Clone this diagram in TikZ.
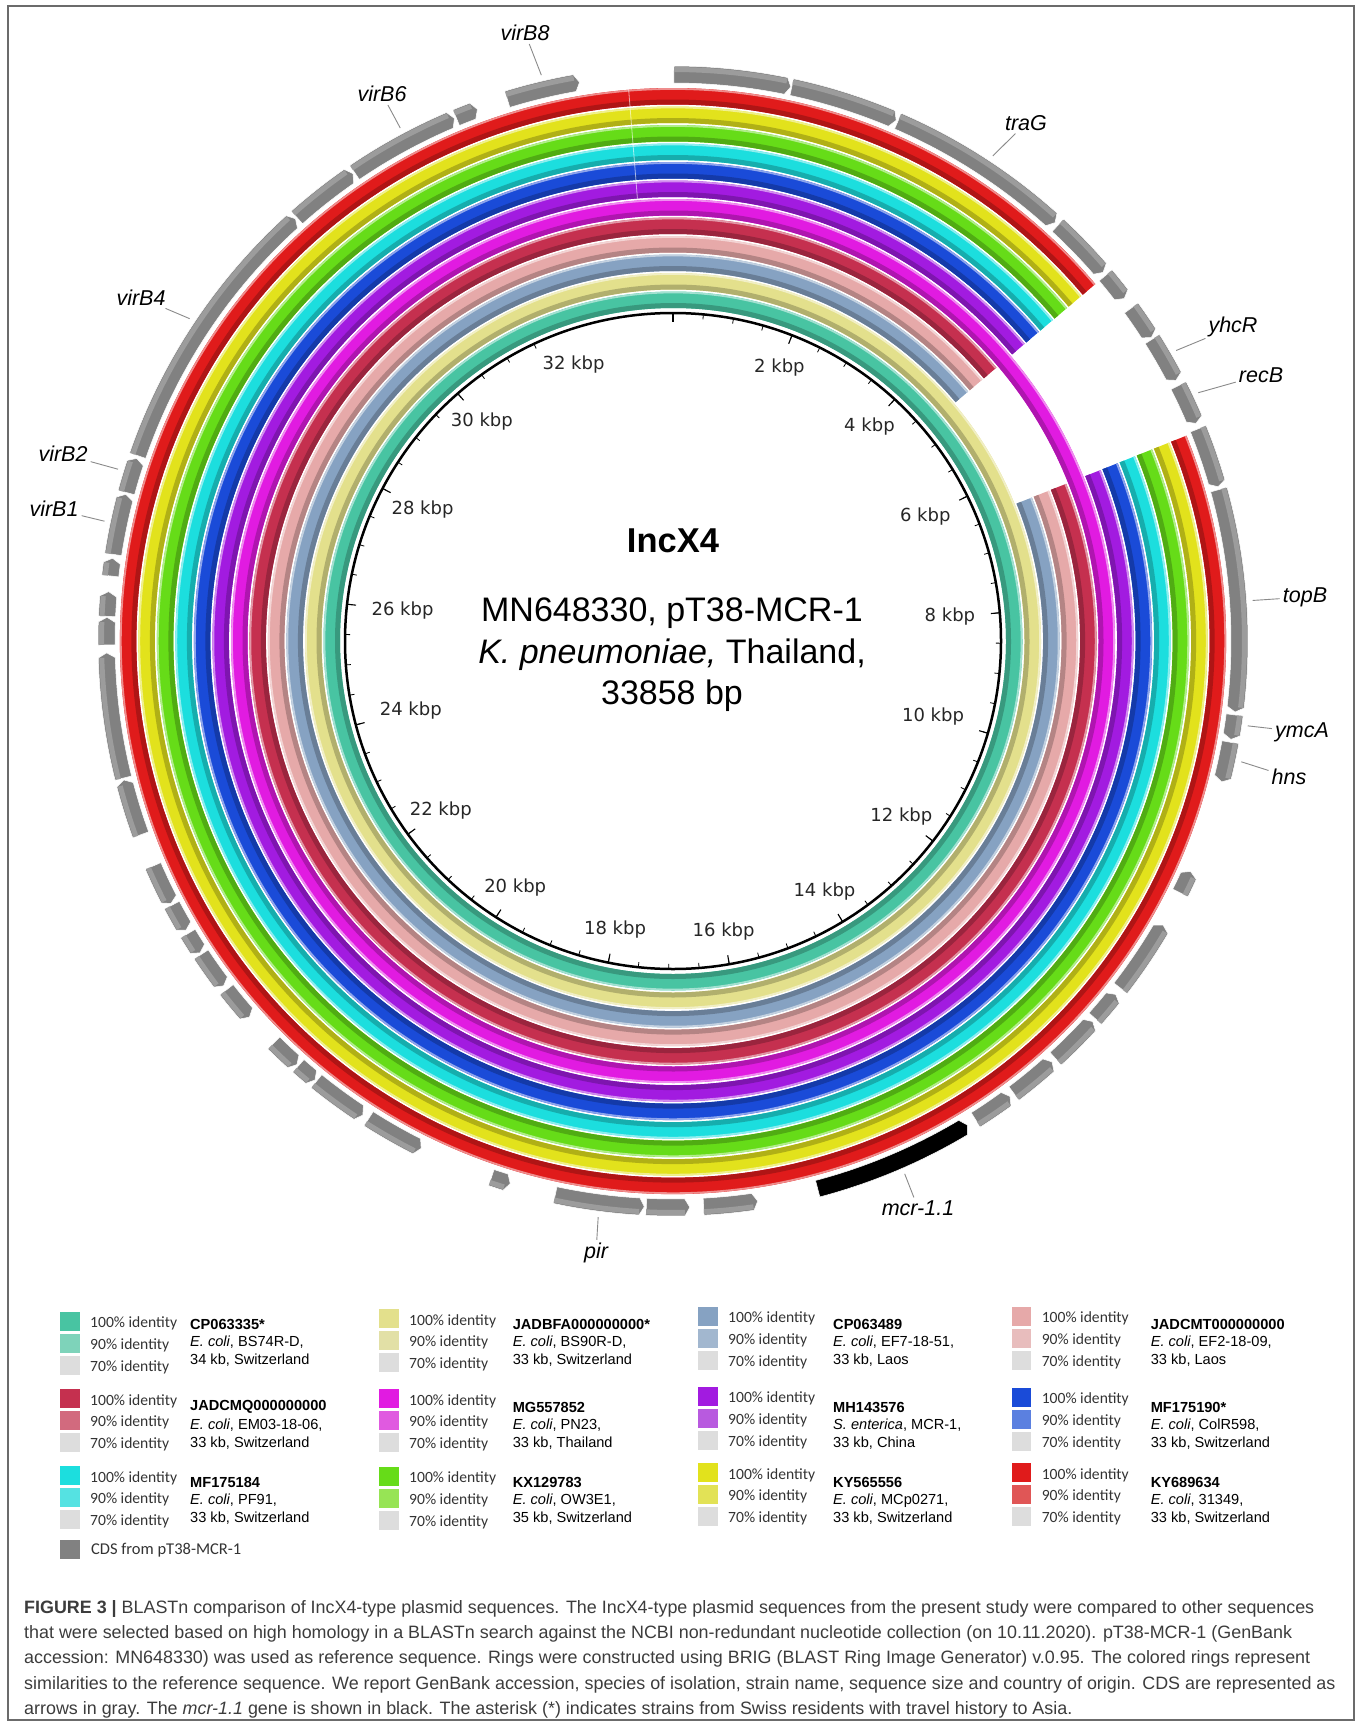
\documentclass[tikz,border=0pt]{standalone}
\usepackage{fontspec}
\setmainfont{Liberation Sans}
\newfontfamily\kbpfont{DejaVu Sans}
\newfontfamily\legfont{Carlito}
\usepackage{xcolor}
\usepackage{tikz}
\usetikzlibrary{calc}
\definecolor{RingTeal}{HTML}{48C4A2}
\definecolor{RingKhaki}{HTML}{E3E08C}
\definecolor{RingSlate}{HTML}{86A2C2}
\definecolor{RingPink}{HTML}{E6A9A9}
\definecolor{RingCrimson}{HTML}{C5304F}
\definecolor{RingMagenta}{HTML}{E11BE1}
\definecolor{RingPurple}{HTML}{A21BE0}
\definecolor{RingBlue}{HTML}{1A4BD8}
\definecolor{RingCyan}{HTML}{1CDEDE}
\definecolor{RingGreen}{HTML}{66DC18}
\definecolor{RingYellow}{HTML}{E2E21C}
\definecolor{RingRed}{HTML}{E01B1B}
\definecolor{TealL}{HTML}{7ED3BA}
\definecolor{KhakiL}{HTML}{E2E0A6}
\definecolor{SlateL}{HTML}{A2B7CF}
\definecolor{PinkL}{HTML}{E8BDBD}
\definecolor{CrimsonL}{HTML}{D26A7E}
\definecolor{MagentaL}{HTML}{E05AE0}
\definecolor{PurpleL}{HTML}{B85ADF}
\definecolor{BlueL}{HTML}{5B80E0}
\definecolor{CyanL}{HTML}{55E2E2}
\definecolor{GreenL}{HTML}{97E455}
\definecolor{YellowL}{HTML}{E2E256}
\definecolor{RedL}{HTML}{E05656}
\definecolor{IdGray}{HTML}{DDDDDD}
\definecolor{CdsGray}{HTML}{818181}
\definecolor{CdsLight}{HTML}{9C9C9C}
\definecolor{LeadGray}{HTML}{8A8A8A}
\definecolor{FrameGray}{HTML}{6B6B6B}
\definecolor{CapText}{HTML}{3C3C3C}

\begin{document}
\begin{tikzpicture}[x=1pt,y=-1pt,
    frame/.style={draw=FrameGray,line width=1.3},
    cds/.style={fill=CdsGray,draw=white,line width=0.5},
    cdstop/.style={draw=CdsLight,line width=5},
    mcr/.style={fill=black,draw=white,line width=0.5},
    tick/.style={draw=black,line width=0.8},
    ticklbl/.style={font=\kbpfont\fontsize{18}{20}\selectfont,text=black!85,inner sep=1.5},
    title/.style={font=\bfseries\fontsize{34.5}{40}\selectfont},
    refinfo/.style={font=\fontsize{34}{41.5}\selectfont,align=center,inner sep=0},
    genelbl/.style={font=\fontsize{21.5}{24}\selectfont\itshape,inner sep=2},
    leader/.style={draw=LeadGray,line width=0.9},
    swatch/.style={anchor=north west,minimum width=19.5,minimum height=19,inner sep=0,draw=none},
    idlbl/.style={anchor=west,font=\legfont\fontsize{15.6}{18}\selectfont,text=black!80,inner sep=0},
    acclbl/.style={anchor=west,font=\fontsize{14.6}{17}\selectfont,inner sep=0},
    caption/.style={anchor=north west,align=left,inner sep=0,text=CapText,
      font=\fontsize{17.9}{25.3}\selectfont}]
  \useasboundingbox (0,0) rectangle (1357,1723);
  \draw[frame] (8,6) rectangle (1354,1720);

  \coordinate (ctr) at (673,641);
  \begin{scope}[shift={(ctr)}]
    % identity rings, innermost first; gap ones skip 49.8 to 68.2 deg
    \foreach \k/\col/\sa/\ea in {0/RingTeal/265.4/625.4, 1/RingKhaki/265.4/625.4,
        2/RingSlate/-21.8/319.8, 3/RingPink/-21.8/319.8, 4/RingCrimson/-21.8/319.8,
        5/RingMagenta/265.4/625.4, 6/RingPurple/-21.8/319.8, 7/RingBlue/-21.8/319.8,
        8/RingCyan/-21.8/319.8, 9/RingGreen/-21.8/319.8, 10/RingYellow/-21.8/319.8,
        11/RingRed/-21.8/319.8}{
      \pgfmathsetmacro\mid{553-18.5*(11-\k)-8.25}
      \pgfmathsetmacro\dk{\mid-5.75}
      \pgfmathsetmacro\lt{\mid+7.3}
      \draw[line width=16.5,\col] (\sa:\mid) arc[start angle=\sa,end angle=\ea,radius=\mid];
      \draw[line width=5,\col!78!black] (\sa:\dk) arc[start angle=\sa,end angle=\ea,radius=\dk];
      \draw[line width=1.8,\col!50!white] (\sa:\lt) arc[start angle=\sa,end angle=\ea,radius=\lt];
    }
    \draw[white,line width=0.8,opacity=0.6] (265.4:444) -- (265.4:553);

    % backbone and ticks
    \draw[black,line width=2.5] (0,0) circle[radius=328];
    \foreach \i in {0,...,63}
      \draw[tick] ({\i*5.31632-90}:328) -- ({\i*5.31632-90}:323);
    \foreach \i in {0,...,15}
      \draw[tick,line width=1.1] ({\i*21.26528-90}:328) -- ({\i*21.26528-90}:319);
    \foreach \kb in {2,4,...,32}{
      \pgfmathsetmacro\c{\kb*10.63264}
      \pgfmathsetmacro\an{mod(450-\c,360)}
      \node[ticklbl,anchor=\an] (kb\kb) at ({\c-90}:305) {\kb\ kbp};
    }

    % CDS arrows (start, end in degrees clockwise from top, strand)
    \foreach \s/\e/\d in {0.1/12.0/1, 12.1/23.2/1, 23.4/42.4/1, 42.8/49.4/1, 49.8/52.8/1,
        54.0/57.6/1, 57.8/62.6/1, 63.2/67.4/1, 68.0/74.2/1, 74.5/97.2/1, 97.5/100.0/1,
        100.3/104.4/1, 114.0/116.4/-1, 120.1/127.8/-1, 128.6/131.8/-1, 132.2/137.5/-1,
        138.0/143.0/-1, 143.5/147.7/-1, 171.4/176.9/-1, 178.3/182.7/-1, 182.9/192.0/-1,
        196.7/198.7/-1, 206.4/212.5/-1, 213.2/219.0/-1, 219.2/221.4/-1, 221.6/224.8/-1,
        228.4/232.0/-1, 232.5/236.4/-1, 236.6/238.9/-1, 239.3/242.2/-1, 242.4/246.6/-1,
        250.0/255.8/1, 256.0/268.8/1, 269.6/272.4/1, 272.5/275.0/1, 276.6/278.4/1,
        278.8/285.0/1, 285.2/288.8/1, 289.1/318.2/1, 318.4/325.6/1, 325.8/337.3/1,
        337.5/339.8/1, 343.0/350.5/1}{
      \pgfmathsetmacro\a{\s-90}
      \pgfmathsetmacro\b{\e-90}
      \pgfmathsetmacro\ta{\a+(\d<0)*0.5}
      \pgfmathsetmacro\tb{\b-(\d>0)*0.5}
      \draw[cds] (\ta:558) arc[start angle=\ta,end angle=\tb,radius=558] -- (\b:566.5)
        -- (\tb:575) arc[start angle=\tb,end angle=\ta,radius=575] -- (\a:566.5) -- cycle;
      \draw[cdstop] (\ta:571.5) arc[start angle=\ta,end angle=\tb,radius=571.5];
    }
    \draw[mcr] (59.2:558) arc[start angle=59.2,end angle=75.2,radius=558] -- (75.2:575)
      arc[start angle=75.2,end angle=59.2,radius=575] -- (58.7:566.5) -- cycle;
  \end{scope}

  % centre text
  \node[title] (inc) at (673,541) {IncX4};
  \node[refinfo] (ref) at (672,655) {MN648330, pT38-MCR-1\\\textit{K. pneumoniae,} Thailand,\\33858 bp};

  % gene labels
  \foreach \n/\t/\lx/\ly/\c in {virB8/virB8/525/33/346.9, virB6/virB6/382/94/332,
      virB4/virB4/141/298/303.7, virB2/virB2/63/454/287.2, virB1/virB1/54/509/281.9,
      traG/traG/1026/123/33.4, yhcR/yhcR/1233/327/60.0, recB/recB/1261/375/64.7,
      topB/topB/1305/597/86, ymcA/ymcA/1302/732/98.4, hns/hns/1289/777/102,
      mcr/mcr-1.1/918/1208/156.5, pir/pir/596/1253/187.4}{
    \node[genelbl] (\n) at (\lx,\ly) {\t};
    \coordinate (\n-end) at ($(ctr)+({\c-90}:581)$);
    \draw[leader,shorten <=1] (\n) -- (\n-end);
  }

  % legend
  \foreach \n/\x/\y/\ax/\ay/\ca/\cb/\acc/\spc/\inf in {
      1/60/1311.7/190/1324/RingTeal/TealL/{CP063335*}/{\textit{E. coli}, BS74R-D,}/{34 kb, Switzerland},
      2/379/1309/512.6/1324/RingKhaki/KhakiL/{JADBFA000000000*}/{\textit{E. coli}, BS90R-D,}/{33 kb, Switzerland},
      3/698/1306.7/833/1324/RingSlate/SlateL/{CP063489}/{\textit{E. coli}, EF7-18-51,}/{33 kb, Laos},
      4/1011.6/1306.7/1150.6/1324/RingPink/PinkL/{JADCMT000000000}/{\textit{E. coli}, EF2-18-09,}/{33 kb, Laos},
      5/60/1389/190/1407/RingCrimson/CrimsonL/{JADCMQ000000000}/{\textit{E. coli}, EM03-18-06,}/{33 kb, Switzerland},
      6/379/1389/512.6/1407/RingMagenta/MagentaL/{MG557852}/{\textit{E. coli}, PN23,}/{33 kb, Thailand},
      7/698/1386.7/833/1407/RingPurple/PurpleL/{MH143576}/{\textit{S. enterica}, MCR-1,}/{33 kb, China},
      8/1011.6/1387.7/1150.6/1407/RingBlue/BlueL/{MF175190*}/{\textit{E. coli}, ColR598,}/{33 kb, Switzerland},
      9/60/1466/190/1482/RingCyan/CyanL/{MF175184}/{\textit{E. coli}, PF91,}/{33 kb, Switzerland},
      10/379/1466.7/512.6/1482/RingGreen/GreenL/{KX129783}/{\textit{E. coli}, OW3E1,}/{35 kb, Switzerland},
      11/698/1463/833/1482/RingYellow/YellowL/{KY565556}/{\textit{E. coli}, MCp0271,}/{33 kb, Switzerland},
      12/1011.6/1463/1150.6/1482/RingRed/RedL/{KY689634}/{\textit{E. coli}, 31349,}/{33 kb, Switzerland}}{
    \node[swatch,fill=\ca] (sw\n-a) at (\x,\y) {};
    \node[swatch,fill=\cb] (sw\n-b) at (\x,\y+21.8) {};
    \node[swatch,fill=IdGray] (sw\n-c) at (\x,\y+43.6) {};
    \node[idlbl] (id\n-a) at (\x+30,\y+12) {100\% identity};
    \node[idlbl] (id\n-b) at (\x+30,\y+33.8) {90\% identity};
    \node[idlbl] (id\n-c) at (\x+30,\y+55.6) {70\% identity};
    \node[acclbl,font=\bfseries\fontsize{14.6}{17}\selectfont] (acc\n) at (\ax,\ay) {\acc};
    \node[acclbl] (spc\n) at (\ax,\ay+18.5) {\spc};
    \node[acclbl] (inf\n) at (\ax,\ay+36) {\inf};
  }
  \node[swatch,fill=CdsGray] (swcds) at (60,1540) {};
  \node[idlbl,font=\legfont\fontsize{16.5}{19}\selectfont] (cdslbl) at (91,1550) {CDS from pT38-MCR-1};

  % caption
  \node[caption] (cap) at (24,1600) {\textbf{FIGURE 3 |} BLASTn comparison of IncX4-type plasmid sequences. The IncX4-type plasmid sequences from the present study were compared to other sequences\\
    that were selected based on high homology in a BLASTn search against the NCBI non-redundant nucleotide collection (on 10.11.2020). pT38-MCR-1 (GenBank\\
    accession: MN648330) was used as reference sequence. Rings were constructed using BRIG (BLAST Ring Image Generator) v.0.95. The colored rings represent\\
    similarities to the reference sequence. We report GenBank accession, species of isolation, strain name, sequence size and country of origin. CDS are represented as\\
    arrows in gray. The \textit{mcr-1.1} gene is shown in black. The asterisk (*) indicates strains from Swiss residents with travel history to Asia.};
\end{tikzpicture}
\end{document}
